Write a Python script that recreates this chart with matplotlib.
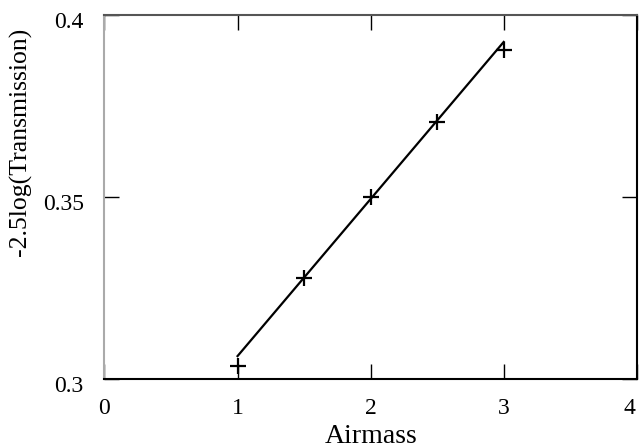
import matplotlib
matplotlib.use("Agg")
import matplotlib.pyplot as plt
import matplotlib.transforms as mtransforms

# measured points
airmass = [1.0, 1.5, 2.0, 2.5, 3.0]
extinction = [0.3036, 0.3277, 0.3500, 0.3706, 0.3904]

# fitted line end points
fit_x = [1.0, 3.0]
fit_y = [0.3063, 0.3926]

x_ticks = [0, 1, 2, 3, 4]
y_ticks = [0.3, 0.35, 0.4]
y_ticklabels = ["0.3", "0.35", "0.4"]

plt.rcParams["font.family"] = ["Liberation Serif", "DejaVu Serif"]

fig = plt.figure(figsize=(6.39, 4.48), dpi=100)
ax = fig.add_axes([0.1635, 0.154, 0.833, 0.8125])

ax.plot(fit_x, fit_y, color="black", linewidth=1.6)
ax.plot(airmass, extinction, linestyle="none", marker="+", markersize=12,
        markeredgewidth=1.6, color="black")

ax.set_xlim(0, 4)
ax.set_ylim(0.3, 0.4)
ax.set_xticks(x_ticks)
ax.set_yticks(y_ticks)
ax.set_yticklabels(y_ticklabels)
ax.tick_params(direction="in", length=11, width=1, top=True, right=True,
               labelsize=17, colors="black")
ax.tick_params(axis="x", pad=14)
ax.tick_params(axis="y", pad=15)

# y tick labels sit a little below their ticks in the original
shift = mtransforms.ScaledTranslation(0, -5 / 100, fig.dpi_scale_trans)
for lbl in ax.get_yticklabels():
    lbl.set_transform(lbl.get_transform() + shift)

# keep the last x label inside the figure
last = ax.get_xticklabels()[-1]
last.set_ha("right")
last.set_transform(last.get_transform() +
                   mtransforms.ScaledTranslation(-1 / 100, 0, fig.dpi_scale_trans))

ax.spines["left"].set_color("#aaaaaa")
ax.spines["top"].set_color("#555555")
for s in ["right", "bottom"]:
    ax.spines[s].set_color("black")
for s in ax.spines.values():
    s.set_linewidth(1.5)

ax.set_xlabel("Airmass", fontsize=20)
ax.xaxis.set_label_coords(0.5, -0.124)
ax.set_ylabel("-2.5log(Transmission)", fontsize=18.5)
ax.yaxis.set_label_coords(-0.136, 0.652)

fig.savefig("out.png", dpi=100)
